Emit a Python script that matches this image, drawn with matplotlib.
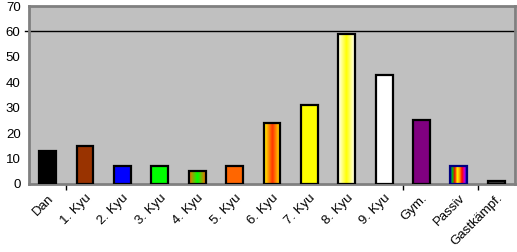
import matplotlib
matplotlib.use('Agg')
import matplotlib.pyplot as plt
import numpy as np
from matplotlib.colors import LinearSegmentedColormap

plt.rcParams['font.family'] = ['Liberation Sans', 'DejaVu Sans']
plt.rcParams['font.size'] = 9.5

categories = ['Dan', '1. Kyu', '2. Kyu', '3. Kyu', '4. Kyu', '5. Kyu', '6. Kyu',
              '7. Kyu', '8. Kyu', '9. Kyu', 'Gym.', 'Passiv', 'Gastkämpf.']
values = [13, 15, 7, 7, 5, 7, 24, 31, 59, 43, 25, 7, 1]
colors = ['#000000', '#993300', '#0000ff', '#00ff00', None, '#ff6600', None,
          '#ffff00', None, '#ffffff', '#800080', None, '#404040']
# horizontal gradients for the fancy bars
gradients = {
    4: ['#ff6600', '#00ff00', '#ff6600'],
    6: ['#ffff00', '#ff9900', '#ff3300', '#ff9900', '#ffff00'],
    8: ['#ffffff', '#ffff00', '#ffffff'],
    11: ['#0000ff', '#00cc00', '#ff0000', '#ffff00', '#ff9900', '#ff0000', '#cc00cc', '#0000ff'],
}
edge_colors = ['black'] * 11 + ['#000080', 'black']

fig = plt.figure(figsize=(5.17, 2.52), dpi=100)
ax = fig.add_axes([0.056, 0.27, 0.94, 0.706])
ax.set_facecolor('#c0c0c0')

x = np.arange(len(categories))
bars = ax.bar(x, values, width=0.45, color=[c if c else 'none' for c in colors],
              edgecolor=edge_colors, linewidth=1.6, zorder=3)

for i, cols in gradients.items():
    b = bars[i]
    cmap = LinearSegmentedColormap.from_list('g%d' % i, cols)
    grad = np.linspace(0, 1, 64).reshape(1, -1)
    im = ax.imshow(grad, cmap=cmap, aspect='auto', zorder=2,
                   extent=[b.get_x(), b.get_x() + b.get_width(), 0, b.get_height()],
                   interpolation='bilinear')
    im.set_clip_path(b)

ax.axhline(60, xmin=-0.008, color='black', linewidth=1, zorder=1, clip_on=False)

ax.set_xlim(-0.5, len(categories) - 0.5)
ax.set_ylim(0, 70)
ax.set_yticks(range(0, 71, 10))
ax.tick_params(axis='y', length=0, pad=6)
ax.set_xticks(x)
ax.set_xticklabels(categories, rotation=45, ha='right', rotation_mode='anchor')
ax.tick_params(axis='x', length=0, pad=6)
ax.set_xticks([0.5, 9.5, 11.5], minor=True)
ax.tick_params(axis='x', which='minor', length=4, width=1, color='black')

for s in ax.spines.values():
    s.set_color('#808080')
    s.set_linewidth(2)

fig.savefig('out.png', dpi=100)
